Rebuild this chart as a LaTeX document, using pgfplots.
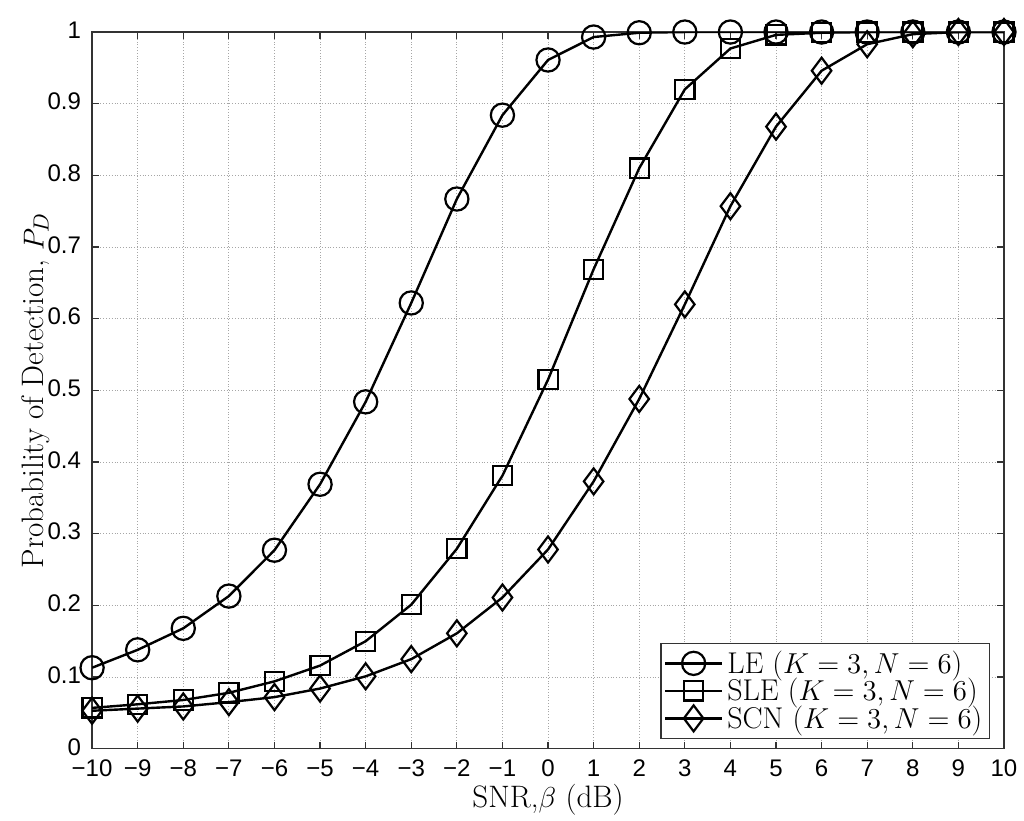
\documentclass[border=0pt]{standalone}
\usepackage{pgfplots}
\pgfplotsset{compat=1.18}
\usepackage{fontspec}
\newfontfamily\ticksf{Liberation Sans}
\begin{document}
\begin{tikzpicture}
\useasboundingbox (-46pt,-36pt) rectangle (465.5pt,374pt);
\begin{axis}[
  at={(0,0)}, anchor=south west,
  scale only axis, width=455.5pt, height=358pt,
  xmin=-10, xmax=10, ymin=0, ymax=1,
  xtick={-10,-9,...,10},
  xticklabels={−10,−9,−8,−7,−6,−5,−4,−3,−2,−1,0,1,2,3,4,5,6,7,8,9,10},
  ytick={0,0.1,...,1},
  yticklabels={0,0.1,0.2,0.3,0.4,0.5,0.6,0.7,0.8,0.9,1},
  tick label style={font=\ticksf\fontsize{12}{14}\selectfont},
  xticklabel style={yshift=-2pt},
  yticklabel style={xshift=-2pt, yshift=1pt},
  tick align=inside, major tick length=3.5pt,
  xtick pos=both, ytick pos=both,
  grid=major, grid style={densely dotted, gray!70, line width=0.5pt},
  axis line style={line width=0.6pt, black!80},
  every tick/.style={black!80, line width=0.6pt},
  xlabel={SNR,$\beta$ (dB)},
  ylabel={Probability of Detection, $P_D$},
  label style={font=\fontsize{15.5}{17}\selectfont},
  xlabel style={yshift=3pt},
  ylabel style={yshift=-8pt},
  legend cell align=left,
  legend style={at={(1,0)}, anchor=south east, xshift=-7pt, yshift=5pt,
    font=\fontsize{15}{16}\selectfont, draw=black!80, line width=0.6pt,
    inner sep=1.5pt, row sep=-3pt},
  legend image code/.code={\draw[mark repeat=2,mark phase=2] plot coordinates {(0cm,0cm) (0.5cm,0cm) (1.0cm,0cm)};},
  legend image post style={line width=1.2pt},
]
\addplot[black, line width=1.2pt, mark=o, mark size=5.8pt, mark options={fill=white, line width=1.1pt}] coordinates {
(-10,0.113) (-9,0.138) (-8,0.168) (-7,0.213) (-6,0.277) (-5,0.369) (-4,0.484) (-3,0.622) (-2,0.767) (-1,0.884) (0,0.961) (1,0.993) (2,0.999) (3,1.0) (4,1.0) (5,1.0) (6,1.0) (7,1.0) (8,1.0) (9,1.0) (10,1.0)};
\addlegendentry{LE ($K=3,N=6$)}
\addplot[black, line width=1.2pt, mark=square, mark size=4.8pt, mark options={fill=white, line width=1.1pt}] coordinates {
(-10,0.057) (-9,0.062) (-8,0.068) (-7,0.078) (-6,0.094) (-5,0.116) (-4,0.150) (-3,0.201) (-2,0.279) (-1,0.381) (0,0.515) (1,0.669) (2,0.810) (3,0.920) (4,0.977) (5,0.996) (6,0.999) (7,1.0) (8,1.0) (9,1.0) (10,1.0)};
\addlegendentry{SLE ($K=3,N=6$)}
\addplot[black, line width=1.2pt, mark=diamond, mark size=6.5pt, mark options={fill=white, line width=1.1pt}] coordinates {
(-10,0.053) (-9,0.056) (-8,0.059) (-7,0.065) (-6,0.072) (-5,0.084) (-4,0.101) (-3,0.125) (-2,0.161) (-1,0.211) (0,0.278) (1,0.373) (2,0.488) (3,0.620) (4,0.757) (5,0.868) (6,0.946) (7,0.983) (8,0.997) (9,1.0) (10,1.0)};
\addlegendentry{SCN ($K=3,N=6$)}
\end{axis}
\end{tikzpicture}
\end{document}
